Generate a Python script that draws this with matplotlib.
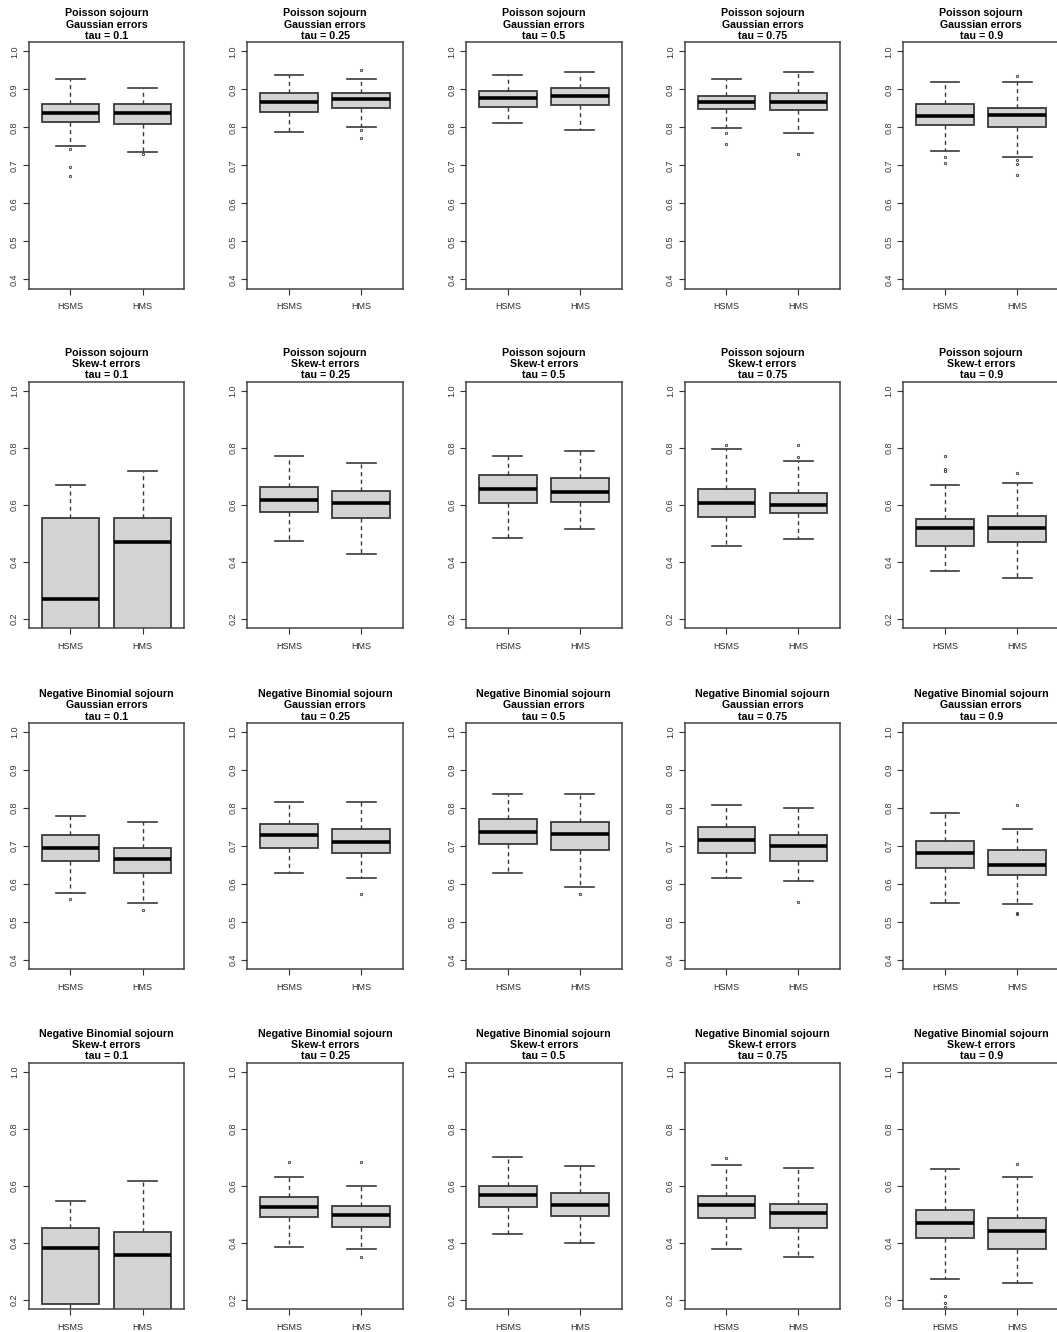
import numpy as np
import matplotlib
matplotlib.use('Agg')
from matplotlib import pyplot as plt

plt.rcParams['font.family'] = ['Liberation Sans', 'DejaVu Sans']

sojourn = ['Poisson sojourn', 'Poisson sojourn',
           'Negative Binomial sojourn', 'Negative Binomial sojourn']
errors = ['Gaussian errors', 'Skew-t errors', 'Gaussian errors', 'Skew-t errors']
taus = ['0.1', '0.25', '0.5', '0.75', '0.9']
methods = ['HSMS', 'HMS']

# five-number summaries (whisker low, Q1, median, Q3, whisker high), row-major over panels
hsms_stats = [
    (0.750, 0.814, 0.838, 0.861, 0.927), (0.787, 0.840, 0.867, 0.890, 0.937),
    (0.812, 0.854, 0.878, 0.895, 0.937), (0.799, 0.848, 0.868, 0.882, 0.928),
    (0.738, 0.807, 0.829, 0.861, 0.919),
    (0.020, 0.100, 0.268, 0.553, 0.669), (0.473, 0.576, 0.616, 0.662, 0.773),
    (0.485, 0.608, 0.656, 0.706, 0.770), (0.456, 0.557, 0.608, 0.655, 0.796),
    (0.368, 0.454, 0.518, 0.550, 0.671),
    (0.577, 0.662, 0.696, 0.729, 0.780), (0.630, 0.696, 0.728, 0.757, 0.815),
    (0.630, 0.706, 0.738, 0.771, 0.836), (0.617, 0.681, 0.716, 0.750, 0.808),
    (0.550, 0.643, 0.681, 0.713, 0.786),
    (0.100, 0.186, 0.383, 0.452, 0.548), (0.385, 0.489, 0.527, 0.562, 0.630),
    (0.431, 0.526, 0.568, 0.601, 0.702), (0.377, 0.487, 0.532, 0.565, 0.673),
    (0.273, 0.417, 0.468, 0.516, 0.658),
]
hms_stats = [
    (0.736, 0.810, 0.839, 0.861, 0.903), (0.801, 0.852, 0.874, 0.890, 0.928),
    (0.794, 0.858, 0.882, 0.904, 0.945), (0.786, 0.846, 0.867, 0.890, 0.945),
    (0.723, 0.800, 0.832, 0.851, 0.919),
    (0.030, 0.120, 0.468, 0.555, 0.719), (0.426, 0.555, 0.606, 0.648, 0.745),
    (0.514, 0.610, 0.645, 0.693, 0.789), (0.481, 0.570, 0.599, 0.642, 0.753),
    (0.342, 0.471, 0.517, 0.559, 0.677),
    (0.550, 0.630, 0.666, 0.696, 0.764), (0.617, 0.682, 0.711, 0.744, 0.815),
    (0.593, 0.691, 0.733, 0.763, 0.836), (0.609, 0.662, 0.700, 0.730, 0.800),
    (0.548, 0.624, 0.649, 0.689, 0.744),
    (0.050, 0.120, 0.356, 0.439, 0.616), (0.379, 0.456, 0.496, 0.530, 0.599),
    (0.399, 0.493, 0.532, 0.573, 0.668), (0.349, 0.453, 0.506, 0.537, 0.663),
    (0.260, 0.378, 0.441, 0.487, 0.631),
]
hsms_out = [
    [0.742, 0.697, 0.673], [], [], [0.786, 0.757], [0.723, 0.707],
    [], [], [], [0.810], [0.772, 0.726, 0.720],
    [0.560], [], [], [], [],
    [], [0.683], [], [0.697], [0.212, 0.188, 0.174],
]
hms_out = [
    [0.729], [0.952, 0.794, 0.772], [], [0.729], [0.936, 0.714, 0.703, 0.675],
    [], [], [], [0.810, 0.766], [0.710],
    [0.533], [0.573], [0.573], [0.554], [0.809, 0.525, 0.520],
    [], [0.683, 0.349], [], [], [0.677],
]
row_ylim = [(0.4, 1.0), (0.2, 1.0), (0.4, 1.0), (0.2, 1.0)]
row_ystep = [0.1, 0.2, 0.1, 0.2]

W, H = 1057, 1332
col_left = [28.7, 247.3, 466.0, 684.6, 903.3]
row_top = [42.3, 381.7, 723.0, 1062.7]
ax_w, ax_h = 155.6, 246.2

fig = plt.figure(figsize=(W / 100, H / 100), dpi=100)


def to_bxp(s, fl):
    lo, q1, med, q3, hi = s
    return dict(whislo=lo, q1=q1, med=med, q3=q3, whishi=hi, fliers=fl)


edge = '#3a3a3a'
for r in range(4):
    for c in range(5):
        k = r * 5 + c
        ax = fig.add_axes([col_left[c] / W, 1 - (row_top[r] + ax_h) / H, ax_w / W, ax_h / H])
        stats = [to_bxp(hsms_stats[k], hsms_out[k]), to_bxp(hms_stats[k], hms_out[k])]
        ax.bxp(stats, positions=[1, 2], widths=0.8, capwidths=0.4, patch_artist=True,
               boxprops=dict(facecolor='#d3d3d3', edgecolor=edge, linewidth=1.3),
               medianprops=dict(color='black', linewidth=2.6, solid_capstyle='butt'),
               whiskerprops=dict(color=edge, linewidth=1.0, linestyle=(0, (3, 2.5))),
               capprops=dict(color=edge, linewidth=1.2),
               flierprops=dict(marker='o', markersize=1.6, markerfacecolor='none',
                               markeredgecolor='#444444', markeredgewidth=0.7))
        lo, hi = row_ylim[r]
        pad = 0.04 * (hi - lo)
        ax.set_ylim(lo - pad, hi + pad)
        ax.set_xlim(0.42, 2.58)
        yt = np.arange(lo, hi + 1e-9, row_ystep[r])
        ax.set_yticks(yt)
        ax.set_yticklabels(['%.1f' % v for v in yt],
                           rotation=90, va='center', fontsize=6.5, color='#333333')
        ax.set_xticks([1, 2])
        ax.set_xticklabels(methods, fontsize=6.5, color='#2a2a2a')
        ax.tick_params(axis='both', length=4, width=0.8, color='#333333', pad=3)
        ax.tick_params(axis='x', pad=6)
        for sp in ax.spines.values():
            sp.set_color('#444444')
            sp.set_linewidth(1.1)
        ax.set_title('%s\n%s\ntau = %s' % (sojourn[r], errors[r], taus[c]),
                     fontsize=7.7, fontweight='bold', linespacing=1.15, pad=2.5)

fig.savefig('out.png', dpi=100)
